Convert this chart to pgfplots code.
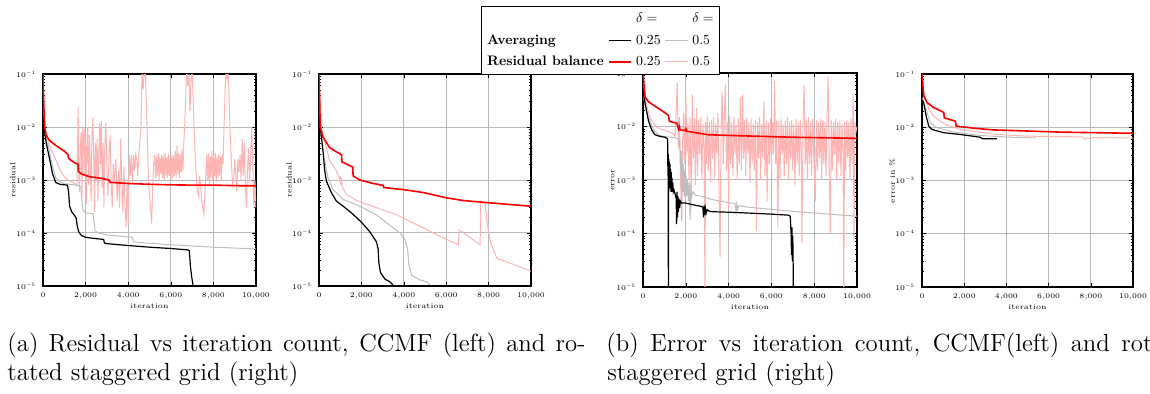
\RequirePackage{fix-cm}
\documentclass[border=0pt]{standalone}
\usepackage{graphicx}
\usepackage{pgfplots}
\pgfplotsset{compat=1.18}
\definecolor{lgray}{RGB}{190,190,190}
\definecolor{lpink}{RGB}{255,180,180}
\newcommand{\legtxt}[1]{\raisebox{0pt}[5.2pt][1.6pt]{\scalebox{0.69}{\fontsize{10}{12}\selectfont #1}}}
\pgfplotsset{
  sblack/.style={black, line width=0.6pt},
  sgray/.style={lgray, line width=0.5pt},
  sred/.style={red, line width=0.8pt},
  spink/.style={lpink, line width=0.5pt},
}
\pgfplotsset{every axis/.append style={
  scale only axis, anchor=south west,
  xmin=0, xmax=10000, ymin=1e-5, ymax=1e-1,
  xtick={0,2000,4000,6000,8000,10000},
  ytick={1e-5,1e-4,1e-3,1e-2,1e-1},
  scaled x ticks=false,
  grid=major,
  grid style={gray!55, line width=0.5pt},
  axis line style={line width=0.55pt},
  major tick length=2pt, minor tick length=1.2pt,
  tick style={black, line width=0.3pt},
  tick label style={font=\fontsize{3.6}{4.2}\selectfont},
  label style={font=\fontsize{3.7}{4.2}\selectfont},
  xlabel={iteration},
  xlabel style={at={(axis description cs:0.5,-0.094)}, anchor=center},
  ylabel style={at={(axis description cs:-0.141,0.5)}, anchor=center},
}}
\begin{document}
\begin{tikzpicture}
% ---------- Axis 1: residual, CCMF ----------
\begin{semilogyaxis}[at={(21.5pt,54pt)}, width=106.5pt, height=106pt, ylabel={residual}]
\addplot[spink] coordinates {(0,0.1) (50,1.5e-2) (150,7e-3) (300,4.5e-3) (500,3e-3) (700,1.9e-3) (900,1.3e-3) (1100,1.05e-3) (1300,9.5e-4) (1500,8.5e-4) (1600,8e-4) (1650,2.4e-2) (1680,1.2e-3) (1720,6e-4) (1760,5e-3) (1800,8e-3) (1830,5e-4) (1870,1e-2) (1900,6e-3) (1930,1.2e-3) (1960,9e-3) (2000,4e-3) (2030,3.5e-4) (2070,6e-3) (2100,1e-2) (2140,8e-4) (2180,7e-3) (2220,2e-3) (2260,4e-4) (2300,8e-3) (2340,1.5e-2) (2380,3e-3) (2420,2.5e-4) (2460,5e-3) (2500,1e-3) (2540,6e-3) (2580,4e-4) (2620,3e-3) (2660,1.2e-2) (2700,2e-3) (2740,1.3e-2) (2780,7e-4) (2820,5e-3) (2860,3e-4) (2900,4e-3) (2950,1.2e-2) (3000,2e-3) (3050,5e-4) (3100,3e-3) (3150,7e-3) (3200,1e-3) (3250,3e-4) (3300,2e-3) (3350,9e-4) (3420,2.5e-3) (3480,4e-4) (3550,1.5e-3) (3600,3e-4) (3650,6e-3) (3700,8e-4) (3750,2.5e-4) (3800,1.8e-3) (3850,3e-4) (3900,1.3e-4) (3950,1e-3) (4000,1.4e-4) (4050,3e-3) (4100,1.2e-3) (4150,3e-3) (4200,8e-4) (4250,3e-3) (4300,1.5e-3) (4350,3e-3) (4400,2.5e-3) (4450,1.2e-3) (4500,3e-3) (4600,1e-2) (4650,0.12) (4700,5e-2) (4750,0.1) (4800,0.12) (4850,3e-2) (4900,6e-3) (4950,1e-3) (5000,5e-4) (5050,3e-4) (5100,1.5e-4) (5150,8e-4) (5200,2e-3) (5250,3e-3) (5290,1.1e-3) (5330,2.8e-3) (5370,1.2e-3) (5410,3.2e-3) (5450,1.0e-3) (5490,2.6e-3) (5530,1.3e-3) (5570,3.0e-3) (5610,1.1e-3) (5650,2.9e-3) (5690,1.0e-3) (5730,3.3e-3) (5770,1.2e-3) (5810,2.7e-3) (5850,1.1e-3) (5890,3.1e-3) (5930,1.2e-3) (5970,2.8e-3) (6010,1.0e-3) (6050,3.0e-3) (6090,1.1e-3) (6130,2.9e-3) (6170,1.2e-3) (6210,3.5e-3) (6250,1.1e-3) (6290,4.5e-3) (6330,1.3e-3) (6370,3.2e-3) (6410,1.1e-3) (6450,3.0e-3) (6490,1.4e-3) (6530,3.8e-3) (6570,1.5e-3) (6610,5e-3) (6650,1e-2) (6700,4e-2) (6750,0.12) (6800,6e-2) (6850,0.1) (6900,2e-2) (6950,0.08) (7000,0.12) (7050,3e-2) (7100,8e-3) (7150,2.5e-3) (7200,1.2e-3) (7250,6e-4) (7300,5e-4) (7350,1.2e-3) (7400,8e-4) (7450,4e-4) (7500,3e-4) (7550,2.2e-4) (7600,5e-4) (7650,1.5e-3) (7690,3e-3) (7730,1.0e-3) (7770,3.2e-3) (7810,8e-4) (7850,2.8e-3) (7890,1.1e-3) (7930,3.5e-3) (7970,1.0e-3) (8010,3e-3) (8050,1.2e-3) (8090,3.3e-3) (8130,9e-4) (8170,2.6e-3) (8210,1.1e-3) (8250,3.1e-3) (8290,1.2e-3) (8330,2.8e-3) (8370,1e-3) (8410,3e-3) (8450,2e-3) (8500,1e-2) (8550,0.05) (8600,0.12) (8650,0.08) (8700,0.12) (8750,2e-2) (8800,6e-3) (8850,2e-3) (8900,8e-4) (8950,1e-3) (9000,2.5e-3) (9050,1.2e-3) (9100,6e-4) (9150,2.5e-3) (9200,1.4e-3) (9250,3e-3) (9300,1e-3) (9350,6e-3) (9400,1.2e-3) (9450,5e-3) (9500,8e-4) (9550,3e-4) (9600,1.5e-3) (9650,4e-3) (9700,9e-4) (9750,3e-3) (9800,1e-2) (9850,2e-3) (9900,3e-4) (9950,1e-3) (10000,3e-4)};
\addplot[sgray] coordinates {(0,1.5e-2) (80,9e-3) (150,6e-3) (300,3.5e-3) (450,1.8e-3) (600,1.1e-3) (800,9.3e-4) (1000,8.5e-4) (1400,8.2e-4) (1700,7.8e-4) (1780,7.3e-4) (1830,4e-4) (1880,2.7e-4) (2000,2.4e-4) (2350,2.3e-4) (2400,1.6e-4) (2440,1.1e-4) (2600,1e-4) (3000,9.2e-5) (3500,8.8e-5) (4200,8.3e-5) (4250,6.8e-5) (5000,6.4e-5) (6000,6e-5) (7000,5.7e-5) (8000,5.4e-5) (9000,5.2e-5) (10000,5e-5)};
\addplot[sblack] coordinates {(0,1.5e-2) (80,8e-3) (150,5e-3) (300,2.6e-3) (450,1.3e-3) (600,9e-4) (800,8.3e-4) (1150,8.0e-4) (1200,6e-4) (1250,3.2e-4) (1350,2.5e-4) (1500,2.1e-4) (1560,1.9e-4) (1600,1.4e-4) (1680,1.05e-4) (1800,9e-5) (2000,8.3e-5) (2400,7.9e-5) (2800,7.6e-5) (2850,7.5e-5) (2880,6.5e-5) (3000,6.3e-5) (4000,5.8e-5) (5000,5.4e-5) (6000,5.1e-5) (6800,4.8e-5) (6870,4.6e-5) (6920,2.4e-5) (6980,1.5e-5) (7050,1.0e-5) (7080,8e-6)};
\addplot[sred] coordinates {(0,0.1) (30,3e-2) (80,1.0e-2) (150,7e-3) (300,5.6e-3) (600,4.5e-3) (1000,3.5e-3) (1170,3.0e-3) (1200,2.6e-3) (1280,2.4e-3) (1500,2.1e-3) (1640,2.0e-3) (1660,1.45e-3) (1800,1.3e-3) (2200,1.15e-3) (2700,1.08e-3) (3100,1.0e-3) (3150,9e-4) (4000,8.6e-4) (5000,8.3e-4) (6000,8.1e-4) (7000,8.0e-4) (8000,8.0e-4) (9200,7.8e-4) (10000,7.8e-4)};
\end{semilogyaxis}
% ---------- Axis 2: residual, rotated staggered ----------
\begin{semilogyaxis}[at={(159.5pt,54pt)}, width=106pt, height=106pt, ylabel={residual}]
\addplot[spink] coordinates {(0,0.1) (110,1e-2) (350,4.1e-3) (500,2.3e-3) (820,1.5e-3) (980,1e-3) (1000,1.2e-3) (1030,8e-4) (1060,1.1e-3) (1090,7.5e-4) (1290,5.3e-4) (1770,4.1e-4) (2710,3e-4) (3660,2.2e-4) (4290,1.65e-4) (4920,1.25e-4) (5710,8.6e-5) (6580,6e-5) (6610,1.15e-4) (7600,6e-5) (7630,4e-4) (7840,3.5e-4) (7920,1.65e-4) (8080,7e-5) (8390,3.3e-5) (9020,2.7e-5) (10000,1.9e-5)};
\addplot[sgray] coordinates {(0,3e-2) (100,6e-3) (270,2.3e-3) (425,1.1e-3) (660,6.6e-4) (1140,4.3e-4) (1920,3.2e-4) (2710,2.2e-4) (3340,1.4e-4) (3820,1e-4) (4050,7.5e-5) (4180,5e-5) (4240,2.5e-5) (4370,1.6e-5) (4760,1.3e-5) (5080,1.2e-5) (5240,1.05e-5)};
\addplot[sblack] coordinates {(0,2e-2) (60,1e-2) (190,3.5e-3) (270,1.5e-3) (350,9.5e-4) (580,5.8e-4) (820,4e-4) (1140,3.2e-4) (1530,2.4e-4) (2000,1.6e-4) (2400,1.05e-4) (2710,6.8e-5) (2790,5e-5) (2820,2.8e-5) (2900,1.8e-5) (3110,1.35e-5) (3340,1.2e-5) (3530,1.0e-5)};
\addplot[sred] coordinates {(0,0.1) (60,1e-2) (190,6.4e-3) (500,4.1e-3) (820,3.4e-3) (1060,3.0e-3) (1080,2.2e-3) (1530,1.8e-3) (1590,1.75e-3) (1610,1.2e-3) (1920,1e-3) (2560,8.6e-4) (3030,7.9e-4) (3060,7.2e-4) (3970,6.6e-4) (4920,5.8e-4) (6020,4.6e-4) (6810,4.1e-4) (8080,3.7e-4) (10000,3.2e-4)};
\end{semilogyaxis}
% ---------- Axis 3: error, CCMF ----------
\begin{semilogyaxis}[at={(321.5pt,53.5pt)}, width=107pt, height=107pt, ylabel={error},
  legend columns=3, legend cell align=left,
  legend image code/.code={\draw[#1] (0cm,0cm) -- (0.4cm,0cm);},
  legend style={at={(-0.199,1.313)}, anchor=north, font=\fontsize{3.6}{4}\selectfont,
    draw=black, line width=0.5pt, inner sep=1pt, column sep=0pt},
]
\addplot[spink, forget plot] coordinates {(0,0.1) (50,5e-2) (100,3.5e-2) (200,2.2e-2) (300,1.6e-2) (400,1.3e-2) (600,1.0e-2) (800,9e-3) (1000,8.5e-3) (1200,8e-3) (1400,7.5e-3) (1500,6.5e-3) (1550,2e-2) (1600,6.5e-2) (1650,4e-3) (1700,1.5e-2) (1750,1.2e-3) (1800,1.7e-4) (1850,5e-3) (1900,1.8e-2) (1950,2e-3) (2000,4.2e-2) (2050,3e-3) (2100,1.2e-2) (2150,1e-3) (2200,1.5e-2) (2250,2.8e-4) (2300,4e-2) (2350,2.5e-3) (2400,1.4e-2) (2450,8e-4) (2500,2.2e-2) (2550,1.2e-3) (2600,1.3e-2) (2650,3e-3) (2700,1.5e-2) (2750,1e-3) (2800,1.1e-2) (2850,4e-3) (2900,5e-6) (2920,1.2e-2) (2960,2e-3) (3000,1.6e-2) (3050,1.5e-3) (3100,1.2e-2) (3150,9e-4) (3200,1.3e-2) (3250,2.5e-3) (3300,1.5e-2) (3350,1.1e-3) (3400,1.1e-2) (3450,3e-3) (3500,1.8e-2) (3550,8e-4) (3600,3.6e-5) (3650,1e-2) (3700,4.5e-2) (3750,2e-3) (3800,1.4e-2) (3850,6e-2) (3900,1.5e-3) (3950,1.2e-2) (4000,2.8e-4) (4050,1.6e-2) (4100,2e-3) (4150,1.2e-2) (4200,1.2e-3) (4250,1.5e-2) (4300,3e-3) (4350,1.1e-2) (4400,1e-3) (4450,1.4e-2) (4500,2e-3) (4550,3.5e-2) (4600,1.5e-3) (4650,4e-2) (4700,2.5e-3) (4750,1.3e-2) (4800,1.2e-3) (4850,1.5e-2) (4900,3e-3) (4950,1.2e-2) (5000,9e-4) (5050,1.4e-2) (5100,2e-3) (5150,1.1e-2) (5200,1.5e-3) (5250,1.3e-2) (5300,1.1e-4) (5350,1.2e-2) (5400,2.5e-3) (5450,1.5e-2) (5500,1e-3) (5550,1.1e-2) (5600,2.5e-3) (5650,3e-2) (5700,1.2e-3) (5750,1.3e-2) (5800,4e-4) (5850,1.2e-2) (5900,2e-3) (5950,1.4e-2) (6000,1.5e-3) (6050,1.2e-2) (6100,3e-3) (6150,7e-2) (6200,2e-3) (6250,1.3e-2) (6300,1.25e-4) (6350,1.2e-2) (6400,1e-3) (6450,1.4e-2) (6500,3e-3) (6550,1.1e-2) (6600,1.2e-3) (6650,1.3e-2) (6700,2e-3) (6750,1.5e-2) (6800,1e-3) (6850,1.2e-2) (6900,2.5e-3) (6950,1.3e-2) (7000,1.5e-3) (7050,1.1e-2) (7100,8e-4) (7150,1.4e-2) (7200,2e-3) (7250,1.2e-2) (7300,1.2e-3) (7350,1.3e-2) (7400,3e-3) (7430,6.5e-5) (7480,1.2e-2) (7530,6e-2) (7580,2e-3) (7630,1.3e-2) (7680,1e-3) (7730,1.5e-2) (7780,2e-3) (7830,1.2e-2) (7880,1.2e-3) (7930,1.4e-2) (7980,3e-3) (8050,4e-4) (8100,1.3e-2) (8150,1.5e-3) (8200,1.2e-2) (8250,2.5e-3) (8300,1.4e-2) (8350,1e-3) (8400,1.3e-2) (8450,2e-3) (8500,1.2e-2) (8550,1.2e-3) (8600,1.6e-2) (8650,8.6e-2) (8700,2e-3) (8750,1e-4) (8800,1.3e-2) (8850,1.5e-3) (8900,1.2e-2) (8950,3e-3) (9000,1.4e-2) (9050,1e-3) (9100,1.2e-2) (9150,2e-3) (9200,1.3e-2) (9250,1.2e-3) (9300,1.1e-2) (9350,3e-3) (9380,5e-6) (9420,1.2e-2) (9470,1.5e-3) (9520,1.3e-2) (9570,2.5e-3) (9620,1.2e-2) (9670,1e-3) (9720,1.4e-2) (9770,2e-3) (9820,4e-2) (9860,7e-5) (9900,1.2e-2) (9950,8e-3) (10000,1e-2)};
\addplot[sgray, forget plot] coordinates {(0,4e-2) (100,2.4e-2) (250,1.5e-2) (480,8.7e-3) (720,7e-3) (1000,6.5e-3) (1500,6.2e-3) (1650,5.8e-3) (1700,5.5e-3) (1730,3.6e-3) (1760,1.5e-3) (1790,3.5e-3) (1810,1.7e-4) (1830,2.5e-3) (1860,6e-4) (1890,2e-3) (1920,5e-4) (1950,1.5e-3) (1980,4.5e-4) (2010,1.2e-3) (2040,5e-4) (2080,1e-3) (2120,4e-4) (2160,9e-4) (2200,1.8e-4) (2240,8e-4) (2280,5e-4) (2350,6e-4) (2450,5.2e-4) (2750,4.9e-4) (3370,4.2e-4) (4300,3.6e-4) (4350,2.5e-4) (4380,3.5e-4) (4420,2.8e-4) (4460,3.3e-4) (4930,3.1e-4) (6960,2.6e-4) (10000,2.1e-4)};
\addplot[sblack, forget plot] coordinates {(0,4.5e-2) (100,2.7e-2) (250,1.3e-2) (400,8.7e-3) (560,7e-3) (800,6.5e-3) (1030,6.3e-3) (1110,6e-3) (1150,5.8e-3) (1165,1.2e-3) (1175,3e-3) (1190,1e-6) (1200,2.5e-3) (1215,8e-4) (1230,2.2e-3) (1245,7e-4) (1260,2e-3) (1275,7e-4) (1290,1.6e-3) (1305,6e-4) (1320,1.4e-3) (1335,6e-4) (1350,1.1e-3) (1370,6e-4) (1390,9e-4) (1420,6e-4) (1450,6.5e-4) (1500,5.5e-4) (1550,4.5e-4) (1570,1.5e-4) (1590,6e-4) (1610,2e-4) (1630,5e-4) (1650,2.5e-4) (1680,4.5e-4) (1710,3e-4) (1750,4e-4) (1800,3.7e-4) (2000,3.7e-4) (2400,3.4e-4) (2750,3.2e-4) (2800,3e-4) (2830,2e-4) (2850,3.3e-4) (2880,2.2e-4) (2910,3e-4) (2950,2.4e-4) (3000,2.8e-4) (3100,2.6e-4) (3300,2.55e-4) (4000,2.5e-4) (5000,2.4e-4) (6000,2.3e-4) (6800,2.2e-4) (6880,2.1e-4) (6920,1e-4) (6940,4e-5) (6960,1.3e-4) (6980,3e-5) (7000,9e-5) (7020,2e-5) (7040,1e-6)};
\addplot[sred, forget plot] coordinates {(0,0.1) (94,3.6e-2) (250,2.9e-2) (560,2.4e-2) (1030,1.8e-2) (1190,1.6e-2) (1230,1.25e-2) (1580,1.15e-2) (1660,8.9e-3) (1700,1e-2) (1730,8.7e-3) (1970,8.4e-3) (2000,9e-3) (2030,8.2e-3) (3060,7e-3) (4620,6.7e-3) (6960,6.3e-3) (10000,6e-3)};
\addlegendimage{empty legend}\addlegendentry{\legtxt{\vphantom{$\delta$}}}
\addlegendimage{empty legend}\addlegendentry{\legtxt{$\delta=$}}
\addlegendimage{empty legend}\addlegendentry{\legtxt{$\delta=$}}
\addlegendimage{empty legend}\addlegendentry{\legtxt{\textbf{Averaging}}}
\addlegendimage{sblack}\addlegendentry{\legtxt{0.25}}
\addlegendimage{sgray}\addlegendentry{\legtxt{0.5}}
\addlegendimage{empty legend}\addlegendentry{\legtxt{\textbf{Residual balance}}}
\addlegendimage{sred}\addlegendentry{\legtxt{0.25}}
\addlegendimage{spink}\addlegendentry{\legtxt{0.5}}
\end{semilogyaxis}
% ---------- Axis 4: error in %, rotated staggered ----------
\begin{semilogyaxis}[at={(461pt,53.5pt)}, width=105.5pt, height=106.5pt, ylabel={error in \%}]
\addplot[spink] coordinates {(0,1e-1) (80,4.5e-2) (320,2.2e-2) (550,1.6e-2) (870,1.3e-2) (1180,1.1e-2) (1820,9.1e-3) (3400,7.4e-3) (4980,6.8e-3) (7600,6.6e-3) (7700,6e-3) (8140,6.4e-3) (10000,6.3e-3)};
\addplot[sgray] coordinates {(0,3.5e-2) (80,2.8e-2) (240,1.9e-2) (400,1.2e-2) (710,9.8e-3) (1500,8.1e-3) (2760,7e-3) (4190,6.5e-3) (5370,6.3e-3)};
\addplot[sblack] coordinates {(0,3.3e-2) (80,2.9e-2) (200,1.6e-2) (320,1.05e-2) (470,9.1e-3) (1030,7.9e-3) (1820,7.3e-3) (2760,6.5e-3) (2850,6.1e-3) (3550,6.1e-3)};
\addplot[sred] coordinates {(0,0.1) (80,3.9e-2) (240,2.9e-2) (550,2.35e-2) (1030,1.9e-2) (1060,1.5e-2) (1580,1.3e-2) (1620,1.05e-2) (2450,9.6e-3) (3400,8.9e-3) (4980,8.5e-3) (6560,8.1e-3) (10000,7.7e-3)};
\end{semilogyaxis}
% ---------- captions ----------
\node[anchor=base west, inner sep=0pt] at (3.5pt,21pt) {\fontsize{12.4}{14.5}\selectfont\makebox[289pt][s]{(a) Residual vs iteration count, CCMF (left) and ro-}};
\node[anchor=base west, inner sep=0pt] at (3.5pt,6.5pt) {\fontsize{12.4}{14.5}\selectfont tated staggered grid (right)};
\node[anchor=base west, inner sep=0pt] at (303pt,21pt) {\fontsize{12.4}{14.5}\selectfont\makebox[296pt][s]{(b) Error vs iteration count, CCMF(left) and rotated}};
\node[anchor=base west, inner sep=0pt] at (303.5pt,6.5pt) {\fontsize{12.4}{14.5}\selectfont staggered grid (right)};
\pgfresetboundingbox
\useasboundingbox (0,0) rectangle (575pt,197pt);
\end{tikzpicture}
\end{document}
